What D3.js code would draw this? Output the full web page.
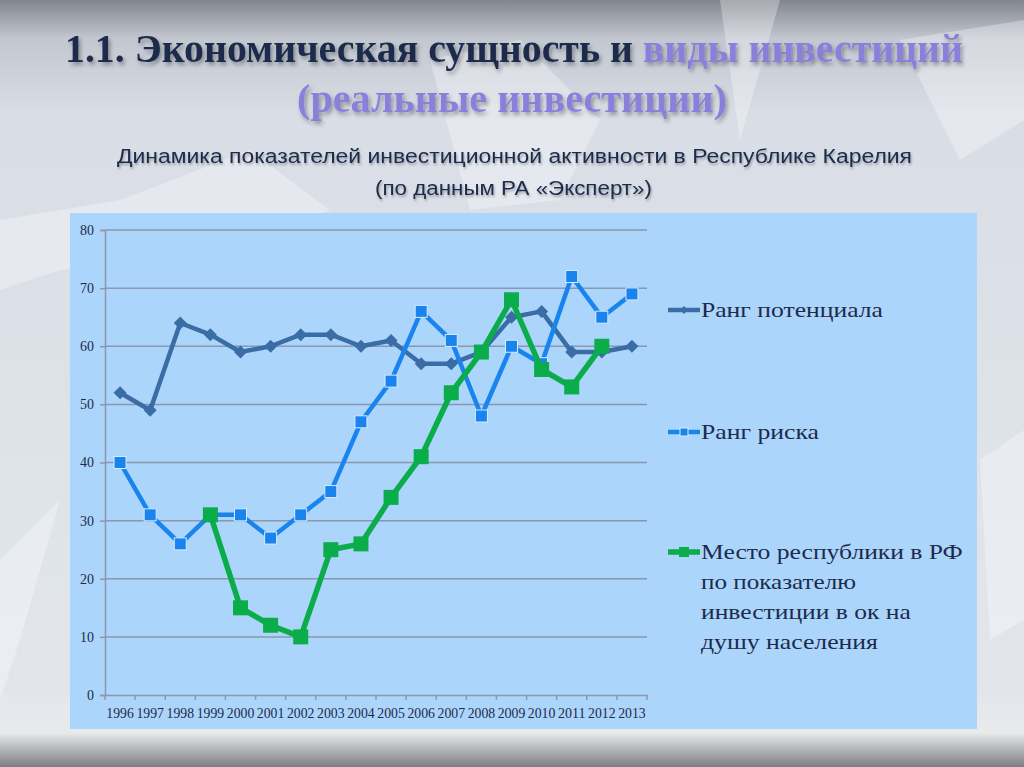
<!DOCTYPE html>
<html><head><meta charset="utf-8">
<script src="https://cdn.jsdelivr.net/npm/d3@7"></script>
<style>html,body{margin:0;padding:0;overflow:hidden;}svg{display:block;}</style>
</head><body>
<svg id="c" width="1024" height="767"></svg>
<script>
const years = ["1996","1997","1998","1999","2000","2001","2002","2003","2004","2005","2006","2007","2008","2009","2010","2011","2012","2013"];
const potential = [52,49,64,62,59,60,62,62,60,61,57,57,59,65,66,59,59,60];
const risk = [40,31,26,31,31,27,31,35,47,54,66,61,48,60,57,72,65,69];
const place = [null,null,null,31,15,12,10,25,26,34,41,52,59,68,56,53,60,null];
const yTicks = [0,10,20,30,40,50,60,70,80];
const seriesNames = ["Ранг потенциала","Ранг риска","Место республики в РФ по показателю инвестиции в ок на душу населения"];

const svg = d3.select("#c");
const defs = svg.append("defs");
const bg = defs.append("linearGradient").attr("id","bg").attr("x1",0).attr("y1",0).attr("x2",0).attr("y2",1);
bg.append("stop").attr("offset","0").attr("stop-color","#80858e");
bg.append("stop").attr("offset","0.05").attr("stop-color","#c3c8d0");
bg.append("stop").attr("offset","0.15").attr("stop-color","#d9dee6");
bg.append("stop").attr("offset","0.9").attr("stop-color","#e2e6ec");
bg.append("stop").attr("offset","0.955").attr("stop-color","#e9eaec");
bg.append("stop").attr("offset","1").attr("stop-color","#7c7e82");
const f = defs.append("filter").attr("id","sh").attr("x","-5%").attr("y","-20%").attr("width","110%").attr("height","150%");
f.append("feDropShadow").attr("dx",2).attr("dy",3).attr("stdDeviation",2).attr("flood-color","#000").attr("flood-opacity",0.35);
const f2 = defs.append("filter").attr("id","sh2").attr("x","-5%").attr("y","-20%").attr("width","110%").attr("height","150%");
f2.append("feDropShadow").attr("dx",1).attr("dy",2).attr("stdDeviation",1.2).attr("flood-color","#000").attr("flood-opacity",0.3);

svg.append("rect").attr("width",1024).attr("height",767).attr("fill","url(#bg)");
// decorative light shapes
const shapes = [
  "M0,220 L120,200 L250,150 L330,210 L260,250 L60,270 L0,290 Z",
  "M430,60 L520,40 L600,120 L560,200 L470,210 Z",
  "M0,560 L60,500 L20,640 L0,700 Z",
  "M900,40 L1024,20 L1024,120 L960,160 Z",
  "M980,460 L1024,430 L1024,620 L990,640 Z",
  "M720,0 L780,0 L740,140 Z"
];
svg.selectAll("path.deco").data(shapes).enter().append("path").attr("class","deco")
  .attr("d",d=>d).attr("fill","#ffffff").attr("opacity",0.3);

// Titles
const t1 = svg.append("text").attr("x",65).attr("y",62).attr("font-family","Liberation Serif, serif")
  .attr("font-weight","bold").attr("font-size",41).attr("textLength",898).attr("lengthAdjust","spacingAndGlyphs")
  .attr("filter","url(#sh)");
t1.append("tspan").attr("fill","#1c2b4c").text("1.1. Экономическая сущность и ");
t1.append("tspan").attr("fill","#8a7fda").text("виды инвестиций");
svg.append("text").attr("x",297).attr("y",112).attr("font-family","Liberation Serif, serif")
  .attr("font-weight","bold").attr("font-size",41).attr("textLength",430).attr("lengthAdjust","spacingAndGlyphs")
  .attr("fill","#8a7fda").attr("filter","url(#sh)").text("(реальные инвестиции)");
svg.append("text").attr("x",117).attr("y",163).attr("font-family","Liberation Sans, Arial, sans-serif")
  .attr("font-size",20).attr("textLength",795).attr("lengthAdjust","spacingAndGlyphs")
  .attr("fill","#1c2b4c").attr("filter","url(#sh2)").text("Динамика показателей инвестиционной активности в Республике Карелия");
svg.append("text").attr("x",375).attr("y",195).attr("font-family","Liberation Sans, Arial, sans-serif")
  .attr("font-size",20).attr("textLength",277).attr("lengthAdjust","spacingAndGlyphs")
  .attr("fill","#1c2b4c").attr("filter","url(#sh2)").text("(по данным РА «Эксперт»)");

// Chart box
svg.append("rect").attr("x",70).attr("y",213).attr("width",907).attr("height",516).attr("fill","#acd5fb");

const x = d3.scaleBand().domain(years).range([105,647]);
const y = d3.scaleLinear().domain([0,80]).range([695,230]);
const axisColor = "#8a98ad";
const textColor = "#1c2b4c";

// gridlines
svg.append("g").selectAll("line").data(yTicks.filter(v=>v>0)).enter().append("line")
  .attr("x1",105).attr("x2",647).attr("y1",d=>y(d)).attr("y2",d=>y(d))
  .attr("stroke",axisColor).attr("stroke-width",1.5);

const ya = svg.append("g").attr("transform","translate(105,0)")
  .call(d3.axisLeft(y).tickValues(yTicks).tickSize(5).tickPadding(6));
ya.select(".domain").attr("stroke",axisColor).attr("stroke-width",1.5);
ya.selectAll(".tick line").attr("stroke",axisColor).attr("stroke-width",1.5);
ya.selectAll(".tick text").attr("font-family","Liberation Serif, serif").attr("font-size",14).attr("fill",textColor);

const xa = svg.append("g").attr("transform","translate(0,695)")
  .call(d3.axisBottom(x).tickSize(0).tickPadding(13));
xa.select(".domain").attr("stroke",axisColor).attr("stroke-width",1.5);
xa.selectAll(".tick text").attr("font-family","Liberation Serif, serif").attr("font-size",14).attr("fill",textColor)
  .attr("textLength",27.5).attr("lengthAdjust","spacingAndGlyphs");
// boundary ticks
svg.append("g").selectAll("line").data(years.concat(["end"])).enter().append("line")
  .attr("x1",(d,i)=>105+i*x.bandwidth()).attr("x2",(d,i)=>105+i*x.bandwidth())
  .attr("y1",695).attr("y2",700).attr("stroke",axisColor).attr("stroke-width",1.5);

const cx = d=>x(d)+x.bandwidth()/2;
const series = [
  {vals:potential, color:"#3a6ca6", width:4.5, marker:"diamond", size:13, stroke:"none"},
  {vals:risk, color:"#1a84ee", width:4.5, marker:"square", size:12, stroke:"#d6ebff"},
  {vals:place, color:"#0bac4a", width:5.5, marker:"square", size:15, stroke:"none"}
];
const line = d3.line().defined(d=>d.v!=null).x(d=>cx(d.year)).y(d=>y(d.v));
function drawMarker(g, type, size, color, stroke){
  if(type==="diamond"){
    const s=size/2;
    g.append("path").attr("d",`M0,${-s}L${s},0L0,${s}L${-s},0Z`).attr("fill",color);
  } else {
    g.append("rect").attr("x",-size/2).attr("y",-size/2).attr("width",size).attr("height",size)
      .attr("fill",color).attr("stroke",stroke).attr("stroke-width",stroke==="none"?0:1);
  }
}
[0,1,2].forEach(i=>{
  const s = series[i];
  const data = years.map((yr,j)=>({year:yr,v:s.vals[j]}));
  svg.append("path").datum(data).attr("d",line).attr("fill","none").attr("stroke",s.color)
    .attr("stroke-width",s.width).attr("stroke-linejoin","round");
  data.filter(d=>d.v!=null).forEach(d=>{
    const g = svg.append("g").attr("transform",`translate(${cx(d.year)},${y(d.v)})`);
    drawMarker(g, s.marker, s.size, s.color, s.stroke);
  });
});

// Legend
const legY = [310, 432, 552];
series.forEach((s,i)=>{
  svg.append("line").attr("x1",668).attr("x2",700).attr("y1",legY[i]).attr("y2",legY[i])
    .attr("stroke",s.color).attr("stroke-width",s.width);
  const g = svg.append("g").attr("transform",`translate(684,${legY[i]})`);
  drawMarker(g, s.marker, s.marker==="diamond"?8:(i===2?10:8), s.color, s.stroke);
});
const legendLines = [["Ранг потенциала"],["Ранг риска"],["Место республики в РФ","по показателю","инвестиции в ок на","душу населения"]];
const legendLens = [[182],[118],[262,155,210,177]];
legendLines.forEach((lines,i)=>{
  lines.forEach((ln,k)=>{
    const t = svg.append("text").attr("font-family","Liberation Serif, serif").attr("font-size",21)
      .attr("fill",textColor).text(ln);
    const w = t.node().getComputedTextLength();
    const sx = legendLens[i][k]/w;
    t.attr("transform",`translate(701,${legY[i]+7+k*30}) scale(${sx},1)`);
  });
});
</script>
</body></html>
